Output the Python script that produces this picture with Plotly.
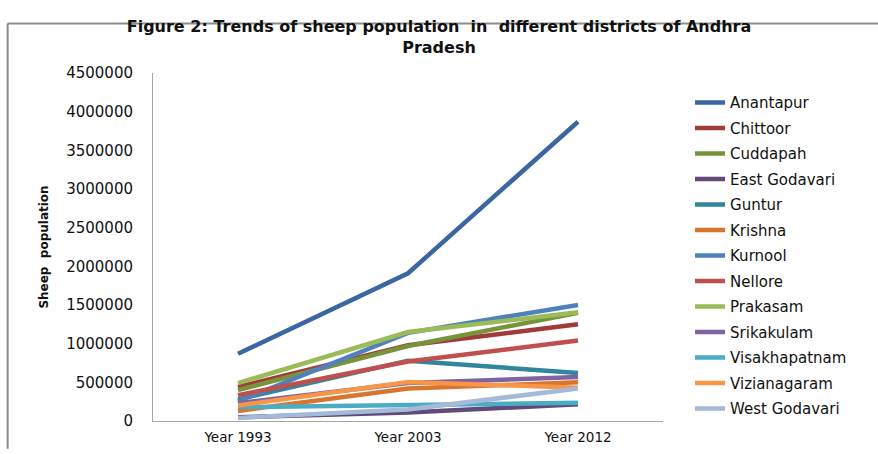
import plotly.graph_objects as go

years = ["Year 1993", "Year 2003", "Year 2012"]

districts = ["Anantapur", "Chittoor", "Cuddapah", "East Godavari", "Guntur", "Krishna",
             "Kurnool", "Nellore", "Prakasam", "Srikakulam", "Visakhapatnam",
             "Vizianagaram", "West Godavari"]

anantapur = [870000, 1910000, 3870000]
chittoor = [440000, 980000, 1250000]
cuddapah = [400000, 970000, 1400000]
east_godavari = [50000, 110000, 215000]
guntur = [280000, 780000, 620000]
krishna = [130000, 420000, 500000]
kurnool = [255000, 1140000, 1500000]
nellore = [335000, 770000, 1040000]
prakasam = [490000, 1150000, 1405000]
srikakulam = [230000, 490000, 570000]
visakhapatnam = [180000, 205000, 235000]
vizianagaram = [200000, 505000, 430000]
west_godavari = [40000, 150000, 420000]

series = [anantapur, chittoor, cuddapah, east_godavari, guntur, krishna, kurnool,
          nellore, prakasam, srikakulam, visakhapatnam, vizianagaram, west_godavari]

colors = ["#3A67A2", "#A23A3A", "#77933C", "#604A7B", "#31859C", "#D8762F",
          "#4F81BD", "#C0504D", "#9BBB59", "#8064A2", "#4BACC6", "#F79646", "#A5B9D8"]

y_ticks = [0, 500000, 1000000, 1500000, 2000000, 2500000, 3000000, 3500000, 4000000, 4500000]

fig = go.Figure()
for name, vals, col in zip(districts, series, colors):
    fig.add_trace(go.Scatter(x=years, y=vals, name=name, mode="lines",
                             line=dict(color=col, width=4.5), legendgroup=name))

fig.update_layout(
    width=878, height=454,
    margin=dict(l=153, r=215, t=73, b=33),
    paper_bgcolor="white", plot_bgcolor="white",
    font=dict(family="DejaVu Sans", color="#222"),
    title=dict(text="<b>Figure 2: Trends of sheep population  in  different districts of Andhra<br>Pradesh</b>",
               x=0.5, xanchor="center", y=0.93, yanchor="top",
               font=dict(family="DejaVu Sans", size=16, color="#111")),
    xaxis=dict(type="category", range=[-0.5, 2.5], showline=True, linecolor="#A6A6A6",
               linewidth=1, ticks="", showgrid=False, zeroline=False,
               ticklabelstandoff=4, automargin=False,
               tickfont=dict(size=13.5, color="#111")),
    yaxis=dict(range=[0, 4500000], tickvals=y_ticks, ticktext=[str(v) for v in y_ticks],
               showline=True, linecolor="#A6A6A6", linewidth=1, ticks="",
               showgrid=False, zeroline=False, ticklabelstandoff=16, automargin=False,
               tickfont=dict(size=15, color="#111"),
               title=dict(text="<b>Sheep  population</b>", standoff=14,
                          font=dict(family="DejaVu Sans", size=12, color="#111"))),
    legend=dict(x=1.053, xanchor="left", y=0.962, yanchor="top", xref="paper",
                font=dict(size=15, color="#111"), tracegroupgap=3,
                itemwidth=30, traceorder="grouped", bgcolor="rgba(0,0,0,0)",
                maxheight=440),
    showlegend=True,
)

fig.add_shape(type="line", xref="paper", yref="paper", x0=-0.285, x1=1.43, y0=1.142, y1=1.142,
              line=dict(color="#8C8C8C", width=2))
fig.add_shape(type="line", xref="paper", yref="paper", x0=-0.285, x1=-0.285, y0=1.142, y1=-0.08,
              line=dict(color="#8C8C8C", width=2))

fig.write_html("out.html")
